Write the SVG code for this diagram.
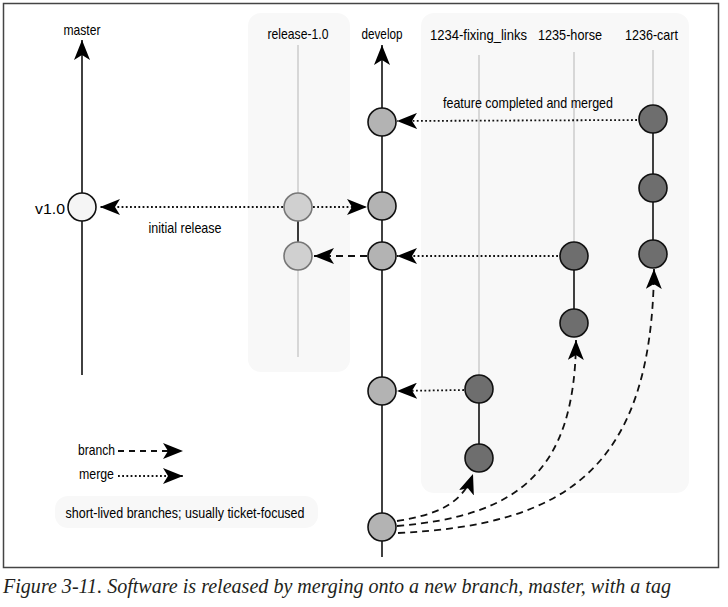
<svg xmlns="http://www.w3.org/2000/svg" width="728" height="607" viewBox="0 0 728 607">
<defs>
<style>
.t{font-family:"Liberation Sans Narrow","Liberation Sans",Arial,sans-serif;font-size:15px;fill:#000}
.m{text-anchor:middle}
.e{text-anchor:end}
.panel{fill:#f8f8f8}
.thin{stroke:#cccccc;stroke-width:1.5;fill:none}
.solid{stroke:#111;stroke-width:1.6;fill:none}
.dot{stroke:#111;stroke-width:1.8;stroke-dasharray:1.8 2.4;fill:none}
.dash{stroke:#111;stroke-width:1.8;stroke-dasharray:7 5;fill:none}
.c{stroke:#111;stroke-width:1.6}
.cm{fill:#f5f5f5}
.cr{fill:#d0d0d0;stroke:#777}
.cd{fill:#b3b3b3}
.cf{fill:#6e6e6e}
</style>
<marker id="ah" markerUnits="userSpaceOnUse" markerWidth="20" markerHeight="16" viewBox="0 0 20 16" refX="20" refY="8" orient="auto">
<path d="M0,0 L20,8 L0,16 L5,8 Z" fill="#000"/>
</marker>
</defs>
<rect x="0" y="0" width="728" height="607" fill="#fff"/>
<rect x="3.5" y="3.5" width="715" height="564" fill="none" stroke="#444" stroke-width="1.5"/>

<g id="panels">
<rect class="panel" x="248" y="13" width="102" height="359" rx="13"/>
<rect class="panel" x="421" y="13" width="268" height="480" rx="13"/>
<rect class="panel" x="55" y="496" width="263" height="32" rx="13"/>
</g>

<g id="branch-lines">
<line class="thin" x1="298" y1="45" x2="298" y2="357"/>
<line class="thin" x1="479" y1="55" x2="479" y2="389"/>
<line class="thin" x1="574" y1="52" x2="574" y2="256"/>
<line class="thin" x1="653" y1="50" x2="653" y2="119"/>
<path class="solid" d="M82,375 L82,40" marker-end="url(#ah)"/>
<path class="solid" d="M382,557 L382,45" marker-end="url(#ah)"/>
<line class="solid" x1="298" y1="207" x2="298" y2="256"/>
<line class="solid" x1="574" y1="256" x2="574" y2="323"/>
<line class="solid" x1="653" y1="119" x2="653" y2="254"/>
<line class="solid" x1="479" y1="389" x2="479" y2="458"/>
</g>

<g id="connectors">
<path class="dot" d="M283,207 L100,207" marker-end="url(#ah)"/>
<path class="dot" d="M313,207 L367,207" marker-end="url(#ah)"/>
<path class="dash" d="M367,256 L314,256" marker-end="url(#ah)"/>
<path class="dot" d="M637,120 L397,121" marker-end="url(#ah)"/>
<path class="dot" d="M558,256 L397,256" marker-end="url(#ah)"/>
<path class="dot" d="M464,390 L397,391" marker-end="url(#ah)"/>
<path class="dash" d="M397,521 C435,515 462,505 473,474" marker-end="url(#ah)"/>
<path class="dash" d="M397,526 C520,516 575,470 576,340" marker-end="url(#ah)"/>
<path class="dash" d="M398,533 C565,525 652,470 654,269" marker-end="url(#ah)"/>
</g>

<g id="master">
<text class="t m" x="82" y="35" textLength="37" lengthAdjust="spacingAndGlyphs">master</text>
<circle class="c cm" cx="82" cy="207" r="14"/>
<text class="t e" x="65" y="214" textLength="30" lengthAdjust="spacingAndGlyphs">v1.0</text>
</g>

<g id="release-1.0">
<text class="t m" x="298" y="39" textLength="61" lengthAdjust="spacingAndGlyphs">release-1.0</text>
<circle class="c cr" cx="298" cy="207" r="14"/>
<circle class="c cr" cx="298" cy="256" r="14"/>
<text class="t m" x="185" y="233" textLength="73" lengthAdjust="spacingAndGlyphs">initial release</text>
</g>

<g id="develop">
<text class="t m" x="382" y="39" textLength="41" lengthAdjust="spacingAndGlyphs">develop</text>
<circle class="c cd" cx="382" cy="122" r="14"/>
<circle class="c cd" cx="382" cy="206" r="14"/>
<circle class="c cd" cx="382" cy="256" r="14"/>
<circle class="c cd" cx="382" cy="391" r="14"/>
<circle class="c cd" cx="382" cy="527" r="14"/>
</g>

<g id="feature-1234">
<text class="t m" x="478.5" y="40" textLength="97" lengthAdjust="spacingAndGlyphs">1234-fixing_links</text>
<circle class="c cf" cx="479" cy="389" r="14"/>
<circle class="c cf" cx="479" cy="458" r="14"/>
</g>

<g id="feature-1235">
<text class="t m" x="570" y="40" textLength="64" lengthAdjust="spacingAndGlyphs">1235-horse</text>
<circle class="c cf" cx="574" cy="256" r="14"/>
<circle class="c cf" cx="574" cy="323" r="14"/>
</g>

<g id="feature-1236">
<text class="t m" x="651.5" y="40" textLength="53" lengthAdjust="spacingAndGlyphs">1236-cart</text>
<circle class="c cf" cx="653" cy="119" r="14"/>
<circle class="c cf" cx="653" cy="188" r="14"/>
<circle class="c cf" cx="653" cy="254" r="14"/>
</g>

<g id="labels">
<text class="t m" x="528" y="108" textLength="170" lengthAdjust="spacingAndGlyphs">feature completed and merged</text>
<text class="t m" x="185" y="518" textLength="239" lengthAdjust="spacingAndGlyphs">short-lived branches; usually ticket-focused</text>
</g>

<g id="legend">
<text class="t e" x="115" y="455" textLength="37" lengthAdjust="spacingAndGlyphs">branch</text>
<path class="dash" d="M118,451 L183,451" marker-end="url(#ah)" style="stroke-dasharray:6 5"/>
<text class="t e" x="114" y="479" textLength="35" lengthAdjust="spacingAndGlyphs">merge</text>
<path class="dot" d="M118,476 L183,476" marker-end="url(#ah)"/>
</g>

<text x="3" y="593" font-family="'Liberation Serif','Times New Roman',serif" font-style="italic" font-size="21" fill="#231f20" textLength="668" lengthAdjust="spacingAndGlyphs">Figure 3-11. Software is released by merging onto a new branch, master, with a tag</text>
</svg>
